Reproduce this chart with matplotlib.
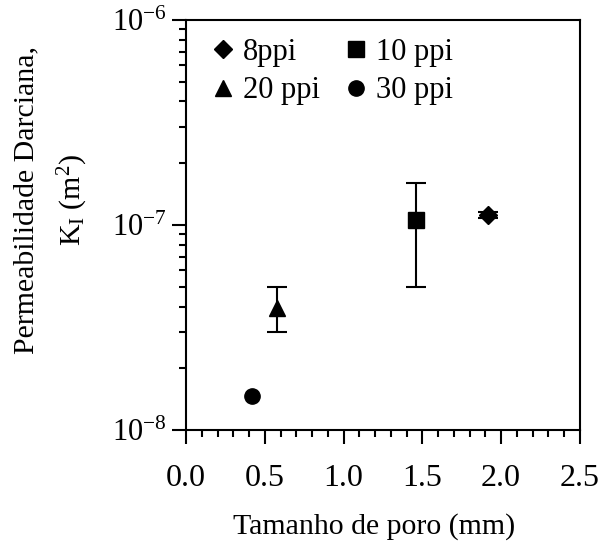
import matplotlib
matplotlib.use('Agg')
import matplotlib.pyplot as plt
from matplotlib.ticker import LogLocator, MultipleLocator, FuncFormatter
import numpy as np

plt.rcParams['font.family'] = ['Liberation Serif', 'DejaVu Serif']
plt.rcParams['mathtext.fontset'] = 'custom'
plt.rcParams['mathtext.rm'] = 'Liberation Serif'
plt.rcParams['mathtext.default'] = 'regular'

# data: pore size (mm), permeability (m2), error bar limits
labels = ['8ppi', '20 ppi', '10 ppi', '30 ppi']
markers = ['D', '^', 's', 'o']
pore = [1.92, 0.58, 1.46, 0.42]
perm = [1.12e-7, 3.95e-8, 1.06e-7, 1.47e-8]
err_lo = [1.08e-7, 3.0e-8, 5.0e-8, 1.47e-8]
err_hi = [1.16e-7, 5.0e-8, 1.6e-7, 1.47e-8]

fig = plt.figure(figsize=(6.04, 5.48), dpi=100)
ax = fig.add_axes([0.308, 0.215, 0.652, 0.749])

handles = []
for lab, m, x, y, lo, hi in zip(labels, markers, pore, perm, err_lo, err_hi):
    yerr = [[y - lo], [hi - y]]
    has_err = hi > lo
    ax.errorbar([x], [y], yerr=yerr if has_err else None, fmt='none',
                ecolor='black', elinewidth=1.5, capsize=7, capthick=1.5)
    ms = 9 if m == 'D' else 11
    h, = ax.plot([x], [y], marker=m, color='black', markersize=ms,
                 linestyle='none', label=lab)
    handles.append(h)

ax.set_yscale('log')
ax.set_xlim(0.0, 2.5)
ax.set_ylim(1e-8, 1e-6)

ax.xaxis.set_major_locator(MultipleLocator(0.5))
ax.xaxis.set_minor_locator(MultipleLocator(0.1))
ax.xaxis.set_major_formatter(FuncFormatter(lambda v, p: f'{v:.1f}'))
ax.yaxis.set_major_locator(LogLocator(base=10))
ax.yaxis.set_minor_locator(LogLocator(base=10, subs=np.arange(2, 10)))
ax.yaxis.set_major_formatter(FuncFormatter(
    lambda v, p: '10$^{%d}$' % int(round(np.log10(v)))))

ax.tick_params(which='both', direction='out', top=False, right=False,
               width=1.5, colors='black')
ax.tick_params(axis='x', which='major', length=10, pad=14, labelsize=23)
ax.tick_params(axis='y', which='major', length=10, pad=4, labelsize=22)
ax.tick_params(which='minor', length=5)
for s in ax.spines.values():
    s.set_linewidth(1.5)

ax.set_xlabel('Tamanho de poro (mm)', fontsize=21.5, labelpad=15)
ax.set_ylabel('Permeabilidade Darciana,\nK$_I$ (m$^2$)', fontsize=21.5,
              labelpad=16, linespacing=1.65)
# labels sit a bit off the axis centre in the original
ax.yaxis.label.set_y(0.56)
ax.xaxis.label.set_x(0.477)

ax.legend(handles=handles, ncol=2, loc='upper left', frameon=False,
          fontsize=22, handletextpad=0.15, columnspacing=0.7,
          handlelength=1.0, borderaxespad=0.2, labelspacing=0.3,
          bbox_to_anchor=(0.008, 1.0))

fig.savefig('out.png', dpi=100)
